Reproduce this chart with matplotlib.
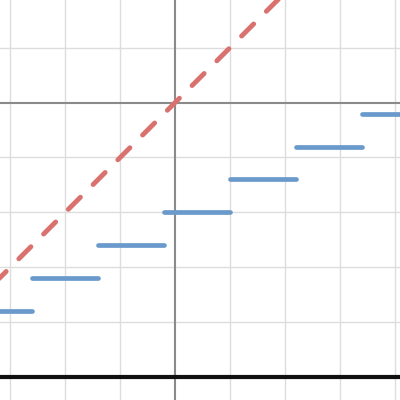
import matplotlib
matplotlib.use('Agg')
import matplotlib.pyplot as plt

plt.rcParams['lines.scale_dashes'] = False

# step function pieces: left end, right end, level
step_x0 = [-3.8, -2.6, -1.4, -0.2, 1.0, 2.2, 3.4]
step_x1 = [-2.6, -1.4, -0.2, 1.0, 2.2, 3.4, 4.6]
step_y = [-3.8, -3.2, -2.6, -2.0, -1.4, -0.8, -0.2]

# dashed line y = x
line_x = [-4, 4.2]
line_y = [-4, 4.2]

# horizontal black line
floor_y = -5

grid_x = [-3, -2, -1, 1, 2, 3, 4]
grid_y = [1, -1, -2, -3, -4, -5]

fig = plt.figure(figsize=(4, 4), dpi=100)
ax = fig.add_axes([0, 0, 1, 1])
ax.set_xlim(-3.19, 4.10)
ax.set_ylim(-5.42, 1.87)
ax.axis('off')

# grid
for gx in grid_x:
    ax.axvline(gx, color='#dddddd', lw=1.0, zorder=0)
for gy in grid_y:
    ax.axhline(gy, color='#dddddd', lw=1.0, zorder=0)
ax.axvline(0, color='#8a8a8a', lw=1.5, zorder=1)
ax.axhline(0, color='#8a8a8a', lw=1.5, zorder=1)

ax.axhline(floor_y, color='#111111', lw=3.0, zorder=2)

for x0, x1, y in zip(step_x0, step_x1, step_y):
    ax.plot([x0, x1], [y, y], color='#6a9acb', lw=3.4,
            solid_capstyle='round', zorder=3)

ax.plot(line_x, line_y, color='#d9726f', lw=3.5,
        linestyle=(5.0, (12.3, 12.9)), dash_capstyle='round', zorder=4)

fig.savefig('out.png', dpi=100)
